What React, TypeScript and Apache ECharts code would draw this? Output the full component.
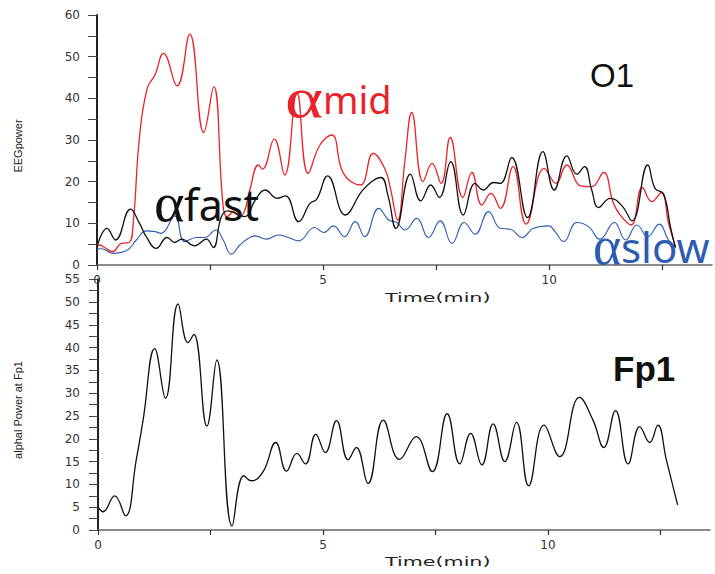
import React, { useEffect, useRef } from 'react';
import * as echarts from 'echarts';

// ---- O1 (top panel) ----
const midTime = [0, 0.06, 0.17, 0.34, 0.54, 0.71, 0.8, 0.94, 1.11, 1.28, 1.47, 1.77, 2.05, 2.36, 2.58, 2.79, 2.88, 3.02, 3.16, 3.27, 3.38, 3.57, 3.66, 3.92, 4.15, 4.42, 4.67, 4.93, 5.19, 5.45, 5.82, 6.11, 6.37, 6.48, 6.65, 6.81, 6.96, 7.21, 7.41, 7.61, 7.81, 8.09, 8.29, 8.51, 8.71, 8.92, 9.2, 9.49, 9.89, 10.15, 10.39, 10.69, 10.94, 11.2, 11.42, 11.57, 11.81, 12.06, 12.27, 12.48, 12.64, 12.79];
const midPower = [4.4, 4.8, 4.2, 3.2, 5.2, 5.4, 10, 30.8, 42.4, 45.6, 50.8, 43, 55.4, 31.8, 42.8, 14, 11.6, 12.8, 11.6, 13.2, 18, 24, 23, 30.2, 21.6, 41.4, 22, 28.8, 31.2, 22, 19.2, 26.8, 23, 18.8, 10.8, 25.2, 36.6, 20, 24.4, 19.6, 30.6, 16.2, 22.2, 14.4, 17.2, 13.6, 23.6, 9.8, 23.2, 19.6, 24, 19, 18.8, 22.2, 14.8, 12, 9.6, 18.6, 15.2, 17.4, 10, 4.4];

const fastTime = [0, 0.22, 0.41, 0.74, 0.94, 1.09, 1.31, 1.55, 1.72, 1.87, 2.16, 2.42, 2.57, 2.75, 2.9, 3.1, 3.27, 3.5, 3.72, 3.98, 4.17, 4.46, 4.71, 4.86, 5.1, 5.49, 5.85, 6.07, 6.28, 6.44, 6.61, 6.93, 7.16, 7.38, 7.57, 7.82, 8.1, 8.36, 8.54, 8.77, 8.92, 9.17, 9.52, 9.86, 10.11, 10.39, 10.61, 10.78, 10.94, 11.09, 11.35, 11.61, 11.83, 12.18, 12.34, 12.53, 12.68, 12.79];
const fastPower = [4.4, 8.8, 6, 13.4, 10, 6.8, 4, 6.6, 5.4, 6.2, 4.6, 6.2, 4.2, 11.6, 13, 12.2, 11.6, 15.6, 18, 16, 16.6, 10.4, 14.8, 15.8, 21.4, 12, 17.6, 20, 21, 16.4, 8.8, 21.8, 15.4, 19.2, 16.2, 24.8, 12, 19.6, 18, 19.8, 19.6, 25.8, 11.4, 27.2, 18, 26.2, 21.8, 23.6, 18, 13.8, 16, 14.2, 10.6, 24, 18.4, 17, 9.2, 4.2];

const slowTime = [0, 0.1, 0.35, 0.65, 0.87, 1.09, 1.28, 1.42, 1.72, 1.94, 2.2, 2.38, 2.63, 2.79, 2.97, 3.16, 3.35, 3.49, 3.75, 4.01, 4.23, 4.46, 4.81, 5.01, 5.23, 5.47, 5.71, 5.92, 6.23, 6.45, 6.63, 6.81, 7.07, 7.33, 7.59, 7.85, 8.12, 8.36, 8.66, 8.92, 9.14, 9.4, 9.65, 9.99, 10.13, 10.32, 10.61, 10.87, 11.12, 11.44, 11.69, 11.94, 12.18, 12.43, 12.64, 12.8];
const slowPower = [3.8, 3.9, 2.8, 3.4, 6, 8.2, 8, 7.6, 11.8, 5.6, 6.6, 6.6, 8.4, 6, 2.6, 4.8, 6.4, 7, 6.2, 7.2, 6.6, 5.8, 9, 7.8, 9.4, 6.8, 10.4, 6.8, 13.6, 10.8, 10.2, 8.4, 11.2, 6.6, 10.6, 5.2, 10.2, 7.4, 12.8, 8.8, 8.6, 6.6, 8.8, 9.4, 8, 5.6, 10.2, 9.2, 6.2, 10.2, 6, 9.6, 6.8, 9.8, 6, 4.2];

// ---- Fp1 (bottom panel) ----
const fp1Time = [0, 0.11, 0.37, 0.61, 0.85, 1.0, 1.26, 1.5, 1.78, 2.0, 2.13, 2.42, 2.64, 2.98, 3.24, 3.41, 3.67, 3.95, 4.19, 4.42, 4.61, 4.84, 5.05, 5.3, 5.56, 5.74, 6.0, 6.34, 6.7, 7.07, 7.43, 7.76, 8.04, 8.28, 8.53, 8.78, 9.04, 9.3, 9.57, 9.91, 10.26, 10.7, 11.0, 11.24, 11.5, 11.78, 12.04, 12.26, 12.44, 12.63, 12.88];
const fp1Power = [5.1, 4.0, 7.5, 3.1, 15.4, 24, 39.8, 28.9, 49.6, 41.1, 42.9, 22.8, 37.3, 0.9, 11.9, 10.8, 12.8, 19.2, 12.9, 16.8, 14.5, 21.0, 17.0, 24.0, 15.4, 18.1, 10.2, 24.1, 15.5, 20.5, 12.8, 25.5, 14.5, 21.2, 14.3, 23.3, 15.0, 23.6, 9.7, 23.0, 16.1, 29.1, 24.1, 18.1, 26.2, 14.5, 22.7, 19.2, 23.0, 15.4, 5.5];

const xLabelValues = [0, 5, 10];
const xTickValues = [0, 2.5, 5, 7.5, 10, 12.5];

const RED = '#e8232b';
const BLUE = '#2d5cb2';
const BLACK = '#111111';
const AXIS_FONT = 'DejaVu Sans';
const LABEL_FONT = 'Noto Sans';
const GREEK_FONT = 'Liberation Serif';

const zip = (t: number[], v: number[]) => t.map((x, i) => [x, v[i]]);

export default function App() {
  const ref = useRef<HTMLDivElement>(null);
  useEffect(() => {
    const chart = echarts.init(ref.current!, null, { renderer: 'svg' });

    const xAxisBase = (gridIndex: number, margin: number) => ({
      gridIndex,
      type: 'value',
      min: 0,
      max: 13.6,
      axisLine: { show: true, lineStyle: { color: '#666', width: 1.5 } },
      axisTick: { show: true, customValues: xTickValues, length: 5, lineStyle: { color: '#333', width: 1.2 } },
      axisLabel: { customValues: xLabelValues, margin, fontSize: 12, fontFamily: AXIS_FONT, color: '#333' },
      splitLine: { show: false },
    });

    const yAxisBase = (gridIndex: number, max: number, interval: number, margin: number) => ({
      gridIndex,
      type: 'value',
      min: 0,
      max,
      interval,
      axisLine: { show: true, lineStyle: { color: '#222', width: 2 } },
      axisTick: { show: true, length: 9, lineStyle: { color: '#444', width: 1 } },
      minorTick: { show: true, splitNumber: 2, length: 9, lineStyle: { color: '#444', width: 1 } },
      axisLabel: { margin, fontSize: 12, fontFamily: AXIS_FONT, color: '#333' },
      splitLine: { show: false },
      minorSplitLine: { show: false },
    });

    const lineSeries = (name: string, data: number[][], color: string, width: number, idx: number) => ({
      name,
      type: 'line',
      xAxisIndex: idx,
      yAxisIndex: idx,
      data,
      smooth: 0.45,
      symbol: 'none',
      lineStyle: { color, width },
      itemStyle: { color },
    });

    const txt = (text: string, x: number, y: number, fontSize: number, color: string, extra: any = {}) => ({
      type: 'text',
      x,
      y,
      z: 100,
      ...extra,
      style: {
        text,
        fontSize,
        fill: color,
        fontFamily: extra.fontFamily || LABEL_FONT,
        fontWeight: extra.fontWeight || 'normal',
        textAlign: extra.textAlign || 'left',
        textVerticalAlign: 'middle',
      },
    });

    const option: any = {
      animation: false,
      backgroundColor: '#ffffff',
      grid: [
        { left: 97, top: 15, width: 615, height: 250 },
        { left: 98, top: 279.3, width: 612, height: 250.7 },
      ],
      xAxis: [xAxisBase(0, 9), xAxisBase(1, 9)],
      yAxis: [yAxisBase(0, 60, 10, 17), yAxisBase(1, 55, 5, 18)],
      series: [
        lineSeries('αslow', zip(slowTime, slowPower), BLUE, 1.1, 0),
        lineSeries('αmid', zip(midTime, midPower), RED, 1.3, 0),
        lineSeries('αfast', zip(fastTime, fastPower), BLACK, 1.3, 0),
        lineSeries('Fp1', zip(fp1Time, fp1Power), BLACK, 1.3, 1),
      ],
      graphic: [
        txt('Time(min)', 385, 298, 12, '#222', { scaleX: 1.72, fontFamily: AXIS_FONT }),
        txt('Time(min)', 385, 562, 12, '#222', { scaleX: 1.72, fontFamily: AXIS_FONT }),
        txt('EEGpower', 18, 146, 11, '#222', { rotation: Math.PI / 2, textAlign: 'center', fontFamily: 'Liberation Sans' }),
        txt('alphal Power at Fp1', 18, 410, 11, '#222', { rotation: Math.PI / 2, textAlign: 'center', fontFamily: 'Liberation Sans' }),
        txt('α', 285, 98, 56, RED, { fontFamily: GREEK_FONT, scaleX: 1.3 }),
        txt('mid', 323, 99, 38, RED),
        txt('α', 154, 203, 54, BLACK, { fontFamily: GREEK_FONT, scaleX: 1.08 }),
        txt('fast', 184, 204, 43, BLACK),
        txt('α', 593, 246, 54, BLUE, { fontFamily: GREEK_FONT }),
        txt('slow', 621, 246, 42, BLUE),
        txt('O1', 590, 75, 33, BLACK, { fontFamily: 'Liberation Sans' }),
        txt('Fp1', 613, 368, 35, BLACK, { fontFamily: 'Liberation Sans', fontWeight: 'bold' }),
      ],
    };

    chart.setOption(option);
    return () => chart.dispose();
  }, []);

  return <div ref={ref} style={{ position: 'absolute', left: 0, top: 0, width: 715, height: 574 }} />;
}
